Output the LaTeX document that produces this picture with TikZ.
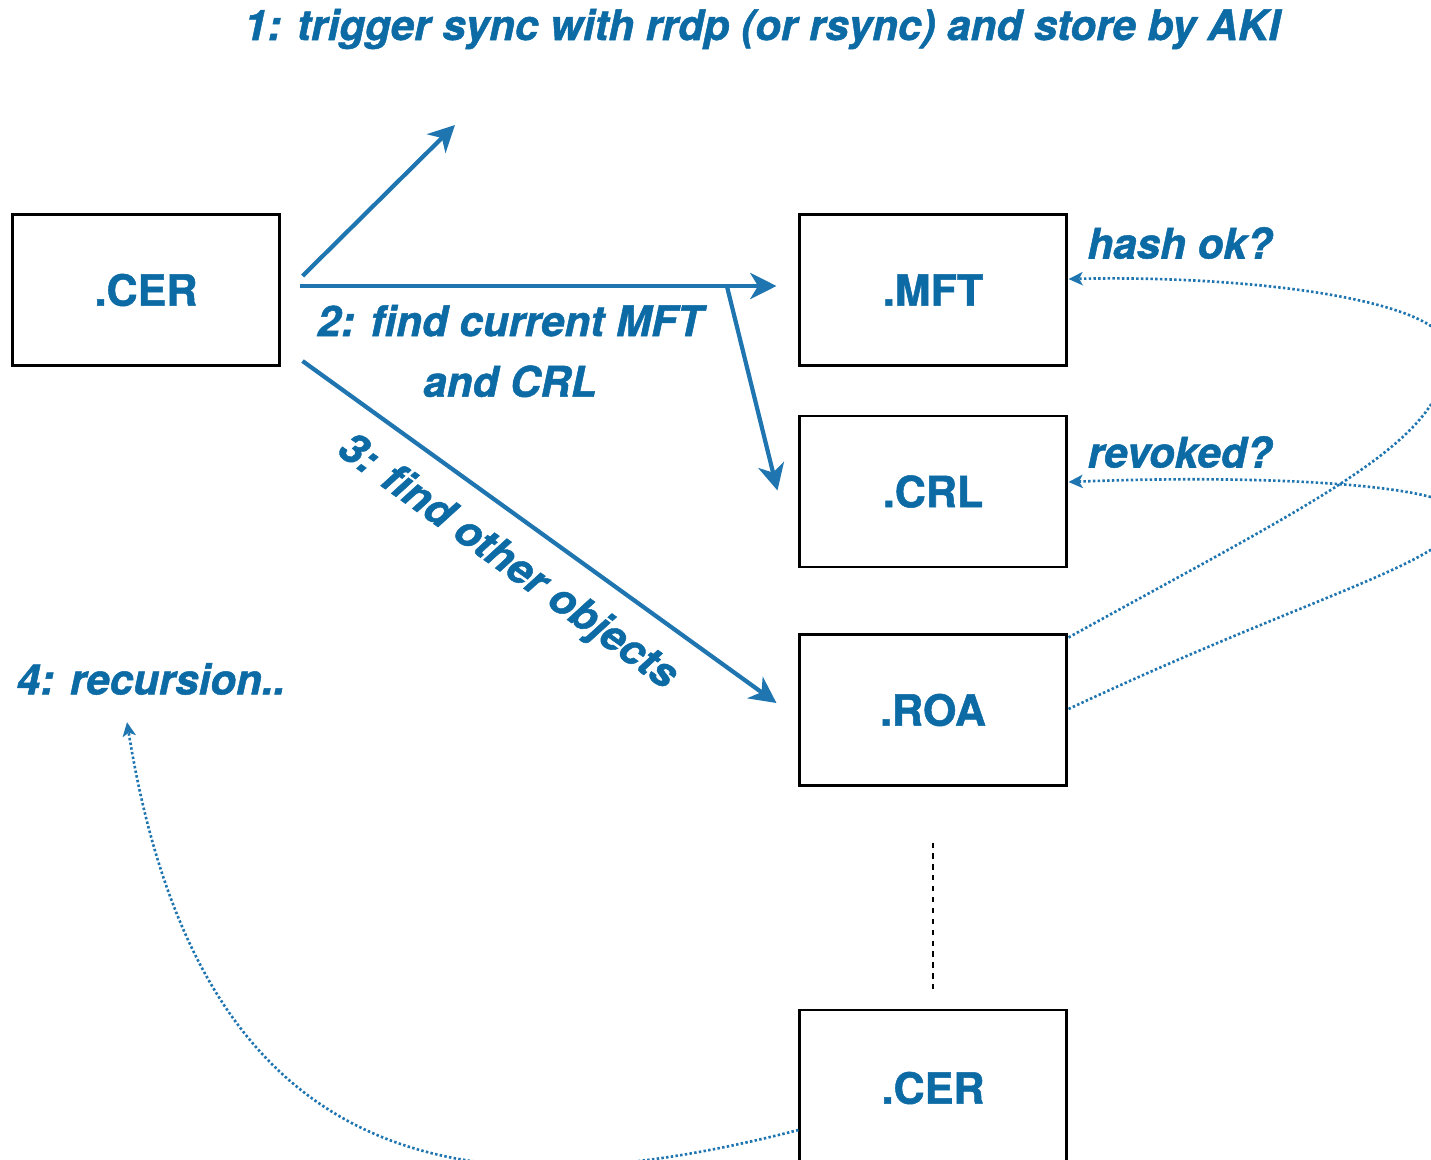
\documentclass[tikz,border=0pt]{standalone}
\usepackage{fontspec}
\setmainfont{TeX Gyre Heros}[BoldFeatures={FakeBold=1.2},BoldItalicFeatures={FakeBold=1.2}]
\usetikzlibrary{arrows.meta,calc}
\definecolor{txtblue}{RGB}{12,106,164}
\definecolor{lnblue}{RGB}{31,117,176}
\begin{document}
\begin{tikzpicture}[x=0.02cm,y=-0.02cm,
  box/.style={draw=black, line width=1.2pt, minimum width=5.34cm, minimum height=3.02cm, inner sep=0pt,
    font=\fontsize{24.5}{28}\selectfont\bfseries, text=txtblue},
  lbl/.style={font=\fontsize{24}{34.5}\selectfont\bfseries\itshape, text=txtblue, inner sep=0pt},
  solidarrow/.style={draw=lnblue, line width=2.4pt, -{Stealth[length=15pt,width=15pt,inset=4.5pt]}},
  dotarrow/.style={draw=lnblue, line width=1.5pt, dash pattern=on 1.4pt off 1.3pt,
    -{Stealth[length=8pt,width=7.5pt,inset=2pt]}},
  blackdots/.style={draw=black, line width=1.6pt, dash pattern=on 3pt off 3.2pt},
]
\useasboundingbox (0,0) rectangle (1431,1160);
\clip (0,0) rectangle (1431,1160);

% boxes
\node[box] (cer1) at (146,290) {.CER};
\node[box] (mft) at (933,290) {.MFT};
\node[box] (crl) at (933,491.5) {.CRL};
\node[box] (roa) at (933,710) {.ROA};
\node[box, minimum height=3.12cm] (cer2) at (933,1088) {.CER};

% labels
\node[lbl, anchor=base] (title) at (762,40) {1: trigger sync with rrdp (or rsync) and store by AKI};
\node[lbl, align=center] (lbl2) at (510,351) {2: find current MFT\\and CRL};
\node[lbl, rotate=-35.7] (lbl3) at (507,563) {3: find other objects};
\node[lbl] (rec) at (151,679) {4: recursion..};
\node[lbl] (hash) at (1180,243) {hash ok?};
\node[lbl] (rev) at (1180,452) {revoked?};

% free end of the sync arrow
\coordinate (sync) at (455,125);

% solid arrows
\draw[solidarrow] ($(cer1.east)+(22,-14)$) -- (sync);
\draw[solidarrow] ($(cer1.east)+(19,-4)$) coordinate (h0) -- ($(mft.west)+(-22,-4)$) coordinate (h1);
\coordinate (br) at ($(h0)!0.896!(h1)$);
\draw[solidarrow] (br) -- ($(crl.west)+(-21,-1)$);
\draw[solidarrow] ($(cer1.east)+(22,71)$) -- ($(roa.west)+(-22,-7)$);

% dotted vertical between ROA and lower CER
\draw[blackdots, shorten <=1.12cm, shorten >=0.3cm] (roa.south) -- (cer2.north);

% dotted feedback curves
\draw[dotarrow] ($(roa.north east)+(1,4)$) .. controls (1328,494) and (1448,440) .. (1448,350)
   .. controls (1448,300) and (1250,275) .. ($(mft.east)+(1,-11)$);
\draw[dotarrow] ($(roa.east)+(1,-1)$) .. controls (1318,592) and (1460,560) .. (1460,515)
   .. controls (1460,485) and (1268,474) .. ($(crl.east)+(1,-9.5)$);
\draw[dotarrow] ($(cer2.west)+(0,42)$) .. controls +(-320,82) and +(75,465) .. ($(rec.south)+(-24,27)$);

\end{tikzpicture}
\end{document}
